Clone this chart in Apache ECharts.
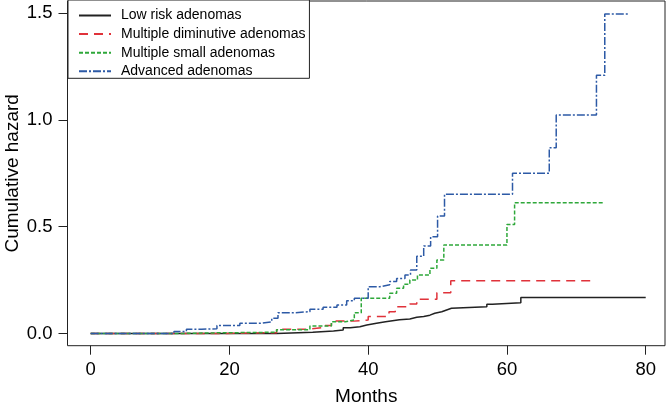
<!DOCTYPE html>
<html>
<head>
<meta charset="utf-8">
<script src="https://cdn.jsdelivr.net/npm/echarts@6/dist/echarts.min.js"></script>
<style>
  html, body { margin: 0; padding: 0; background: #fff; }
  #chart { width: 668px; height: 406px; }
</style>
</head>
<body>
<div id="chart"></div>
<script>
// Step points: [month, cumulative hazard] — value holds from that month on.
const lowRisk = [
  [0, 0], [26.8, 0.006], [32, 0.012], [35, 0.016], [36.4, 0.027], [37.4, 0.032],
  [38.8, 0.04], [39.8, 0.048], [41.2, 0.055], [42.5, 0.06], [43.5, 0.064],
  [44.5, 0.068], [46, 0.076], [47, 0.08], [48, 0.086], [48.9, 0.095],
  [49.6, 0.102], [50.6, 0.11], [51.3, 0.118], [52, 0.125], [57.1, 0.137],
  [57.9, 0.144], [62, 0.168], [80, 0.168]
];
const diminutive = [
  [0, 0], [18, 0.004], [26.8, 0.02], [31.1, 0.027], [33.3, 0.037], [34.7, 0.058],
  [37.9, 0.063], [40, 0.08], [43, 0.102], [43.9, 0.125], [46, 0.138],
  [47, 0.16], [49.9, 0.191], [51.9, 0.247], [72.5, 0.247]
];
const multipleSmall = [
  [0, 0], [12.4, 0.003], [18, 0.006], [26.8, 0.018], [31.6, 0.035], [34.7, 0.055],
  [36.7, 0.063], [38, 0.097], [39, 0.165], [43.1, 0.188], [44.1, 0.212],
  [45.1, 0.23], [46, 0.25], [47.1, 0.274], [48.9, 0.305], [49.9, 0.344],
  [50.9, 0.414], [60, 0.51], [61.1, 0.612], [73.8, 0.612]
];
const advanced = [
  [0, 0], [12, 0.01], [13.8, 0.02], [16, 0.022], [18.2, 0.038], [21.5, 0.048],
  [24.4, 0.055], [26.1, 0.071], [27, 0.097], [29.2, 0.102], [31.6, 0.113],
  [33.5, 0.123], [35.5, 0.133], [36.9, 0.153], [38, 0.165], [40, 0.219],
  [41.7, 0.228], [43.1, 0.244], [44.1, 0.258], [45.3, 0.274], [46.1, 0.297],
  [47, 0.362], [48, 0.41], [49, 0.453], [50, 0.55], [51, 0.652], [60.8, 0.75],
  [66.1, 0.869], [67.1, 1.022], [72.9, 1.208], [74.1, 1.495], [77.6, 1.495]
];

const seriesNames = [
  'Low risk adenomas',
  'Multiple diminutive adenomas',
  'Multiple small adenomas',
  'Advanced adenomas'
];
const xTicks = [0, 20, 40, 60, 80];
const yTicks = [0, 0.5, 1, 1.5];

const FONT = 'Liberation Sans, Arial, Helvetica, sans-serif';

function stepSeries(name, data, color, dash, width) {
  return {
    name,
    type: 'line',
    step: 'end',
    data,
    symbol: 'none',
    lineStyle: { color, width, type: dash },
    itemStyle: { color },
    silent: true
  };
}

const chart = echarts.init(document.getElementById('chart'), null, { renderer: 'canvas' });

chart.setOption({
  animation: false,
  textStyle: { fontFamily: FONT, color: '#000' },
  grid: {
    left: 67.5,
    right: 3,
    top: 1,
    bottom: 60.3,
    containLabel: false,
    outerBoundsMode: 'none',
    show: true,
    borderColor: '#222',
    borderWidth: 1
  },
  legend: {
    orient: 'vertical',
    left: 68,
    top: 0,
    padding: [8.5, 4, 0, 10],
    itemWidth: 32,
    itemHeight: 14,
    itemGap: 4.6,
    borderColor: '#222',
    borderWidth: 1,
    borderRadius: 0,
    backgroundColor: '#fff',
    // hide the marker symbol, keep only the line sample
    itemStyle: { opacity: 0, borderWidth: 0 },
    textStyle: { fontFamily: FONT, fontSize: 14, color: '#000', padding: [0, 0, 0, 5] },
    data: seriesNames
  },
  xAxis: {
    type: 'value',
    min: -3.34,
    max: 82.78,
    name: 'Months',
    nameLocation: 'middle',
    nameGap: 42,
    nameMoveOverlap: false,
    nameTextStyle: { fontFamily: FONT, fontSize: 19, color: '#000' },
    axisLine: { show: false, onZero: false },
    splitLine: { show: false },
    axisTick: {
      show: true,
      inside: false,
      length: 9,
      customValues: xTicks,
      lineStyle: { color: '#222', width: 1 }
    },
    axisLabel: {
      customValues: xTicks,
      margin: 15,
      fontSize: 18.5,
      fontFamily: FONT,
      color: '#000'
    }
  },
  yAxis: {
    type: 'value',
    min: -0.057,
    max: 1.556,
    name: 'Cumulative hazard',
    nameLocation: 'middle',
    nameGap: 45,
    nameMoveOverlap: false,
    nameTextStyle: { fontFamily: FONT, fontSize: 19, color: '#000' },
    axisLine: { show: false, onZero: false },
    splitLine: { show: false },
    axisTick: {
      show: true,
      inside: false,
      length: 9,
      customValues: yTicks,
      lineStyle: { color: '#222', width: 1 }
    },
    axisLabel: {
      customValues: yTicks,
      margin: 15,
      fontSize: 18.5,
      fontFamily: FONT,
      color: '#000',
      formatter: (v) => v.toFixed(1)
    }
  },
  series: [
    stepSeries(seriesNames[0], lowRisk, '#222222', 'solid', 1.5),
    stepSeries(seriesNames[1], diminutive, '#e0323a', [9, 6], 1.5),
    stepSeries(seriesNames[2], multipleSmall, '#2ea83a', [4, 2], 1.5),
    stepSeries(seriesNames[3], advanced, '#2d5aa6', [8, 2, 2, 2], 1.5)
  ]
});
</script>
</body>
</html>
